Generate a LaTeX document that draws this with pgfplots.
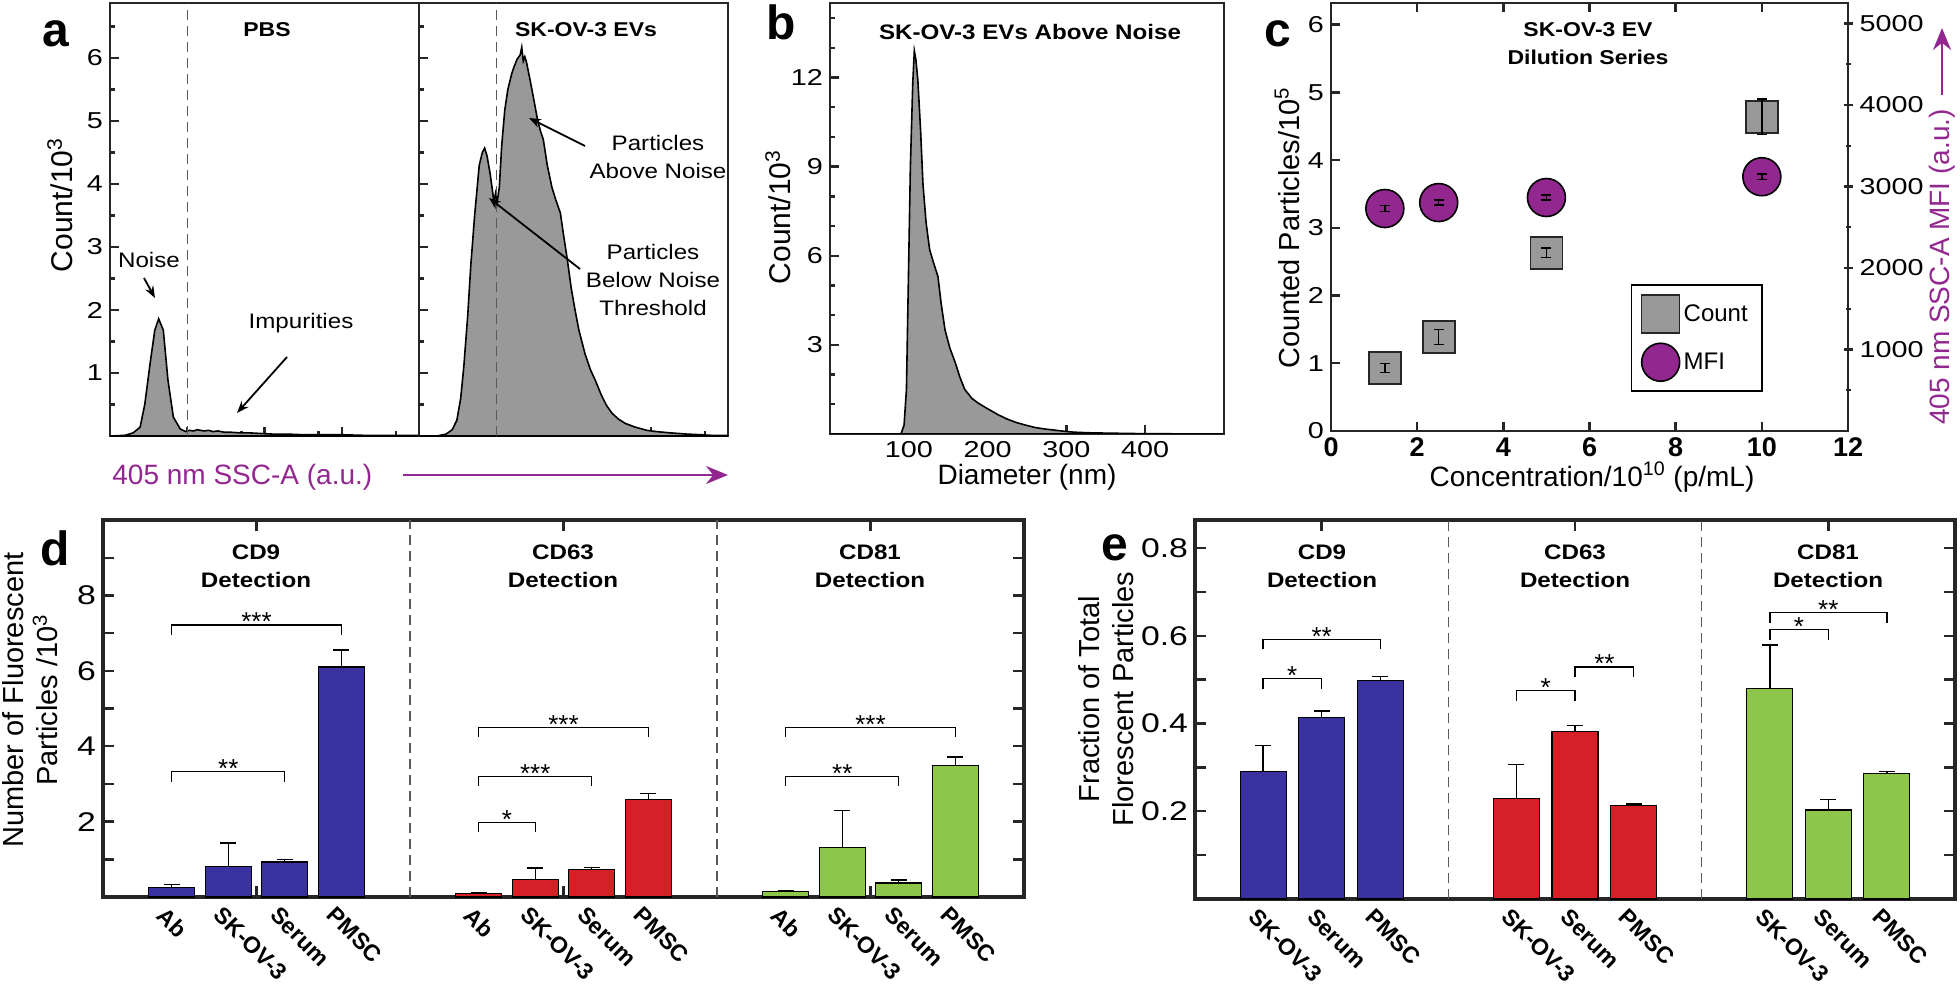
\documentclass[border=0pt]{standalone}
\usepackage{fontspec}
\setmainfont{Liberation Sans}
\newfontfamily\wide[FakeStretch=1.15]{Liberation Sans}
\newfontfamily\tickf[FakeStretch=1.25]{Liberation Sans}
\usepackage{pgfplots}
\pgfplotsset{compat=1.18}
\usetikzlibrary{arrows.meta}

\definecolor{axgray}{RGB}{38,38,38}
\definecolor{histgray}{RGB}{153,153,153}
\definecolor{mfi}{RGB}{146,39,143}
\definecolor{cdblue}{RGB}{58,50,160}
\definecolor{cdred}{RGB}{213,32,39}
\definecolor{cdgreen}{RGB}{141,198,75}

\pgfplotsset{
  panelbase/.style={scale only axis, anchor=south west,
    axis line style={draw=axgray, line width=1.4pt},
    tick style={draw=axgray, line width=1.2pt},
    major tick length=4.5pt, minor tick length=2.5pt, tick align=inside,
    /pgf/number format/assume math mode=true,
    /pgf/number format/1000 sep={},
    scaled ticks=false,
    tick label style={font=\tickf\fontsize{11.5pt}{13pt}\selectfont}},
  histfill/.style={fill=histgray, draw=black, line width=0.8pt},
  cdbar/.style={ybar, bar width=#1, bar shift=0pt, draw=black, line width=0.6pt,
    error bars/y dir=plus, error bars/y explicit,
    error bars/error bar style={black, line width=0.7pt},
    error bars/error mark options={rotate=90, mark size=4pt, black, line width=0.7pt}},
  erronly/.style={forget plot, color=black, only marks, mark=none, mark size=0pt,
    mark options={draw=none, fill=none},
    error bars/y dir=both, error bars/y explicit,
    error bars/error bar style={black, line width=0.7pt},
    error bars/error mark options={draw=black, rotate=90, mark size=2.5pt, line width=0.7pt}},
  sigbr/.style={black, line width=0.7pt, forget plot},
  grpdiv/.style={dash pattern=on 5pt off 3pt, gray!70!black, line width=0.6pt, forget plot},
  bigpanel/.style={panelbase, axis line style={line width=1.8pt},
    major tick length=5.5pt, minor tick length=5.5pt,
    xmin=0, xmax=15, ytick pos=both, yticklabel pos=left,
    xtick={2.5,7.5,12.5}, xticklabels={},
    extra x tick style={major tick length=0pt},
    yticklabel style={font=\tickf\fontsize{13.5pt}{15pt}\selectfont},
    xticklabel style={rotate=-45, anchor=north west, xshift=-2pt, yshift=-1pt,
      font=\bfseries\fontsize{11.5pt}{13pt}\selectfont}},
  cbox/.style={scale only axis, anchor=south west, at={(665.5pt,-215.5pt)},
    width=258.5pt, height=214pt, xmin=0, xmax=12},
}
\tikzset{stars/.style={font=\fontsize{13pt}{13pt}\selectfont, anchor=base, inner sep=0pt, yshift=-3pt}}

\begin{document}
\begin{tikzpicture}
\path[use as bounding box] (0,0) rectangle (980pt,-494.5pt);

% ---- a: PBS
\begin{axis}[panelbase, at={(55pt,-218pt)}, width=154.5pt, height=216.5pt,
  xmin=0, xmax=4, ymin=0, ymax=6.873,
  xtick={0,1,2,3,4}, minor xtick={0.7,1.7,2.7,3.7}, xticklabels={},
  ytick={1,2,3,4,5,6}, minor ytick={0.5,1.5,2.5,3.5,4.5,5.5,6.5},
  xtick pos=bottom, ytick pos=left]
\addplot[histfill] coordinates {
  (0,0)(0.19,0.01)(0.30,0.05)(0.39,0.14)(0.45,0.5)(0.52,1.16)(0.58,1.68)
  (0.63,1.86)(0.69,1.68)(0.75,0.89)(0.82,0.3)(0.91,0.11)(0.98,0.07)
  (1.03,0.09)(1.08,0.08)(1.13,0.10)(1.17,0.09)(1.22,0.08)(1.28,0.09)(1.33,0.07)
  (1.40,0.08)(1.48,0.06)(1.56,0.06)(1.68,0.05)(1.80,0.05)(1.95,0.04)(2.11,0.03)
  (2.30,0.03)(2.50,0.02)(2.72,0.02)(3.00,0.02)(3.30,0.01)(3.60,0.01)(4.00,0.01)
} \closedcycle;
\addplot[grpdiv] coordinates {(1,0)(1,6.873)};
\end{axis}

% ---- a: SK-OV-3 EVs
\begin{axis}[panelbase, at={(209.5pt,-218pt)}, width=154.5pt, height=216.5pt,
  xmin=0, xmax=4, ymin=0, ymax=6.873,
  xtick={0,1,2,3,4}, minor xtick={0.7,1.7,2.7,3.7}, xticklabels={},
  ytick={1,2,3,4,5,6}, minor ytick={0.5,1.5,2.5,3.5,4.5,5.5,6.5}, yticklabels={},
  xtick pos=bottom, ytick pos=left]
\addplot[histfill] coordinates {
  (0,0)(0.23,0.0)(0.35,0.03)(0.43,0.1)(0.49,0.25)(0.54,0.6)(0.58,1.1)(0.63,1.9)
  (0.67,2.7)(0.72,3.5)(0.78,4.3)(0.82,4.5)(0.85,4.57)(0.88,4.45)(0.92,4.17)
  (0.95,3.9)(0.97,3.72)(0.99,3.85)(1.01,3.7)(1.04,3.95)(1.07,4.6)(1.11,5.17)
  (1.15,5.5)(1.20,5.75)(1.23,5.86)(1.27,5.98)(1.31,6.05)(1.33,6.17)(1.35,5.95)
  (1.37,6.02)(1.39,5.94)(1.43,5.7)(1.48,5.38)(1.53,5.05)(1.57,4.85)(1.61,4.7)
  (1.66,4.3)(1.72,3.95)(1.77,3.75)(1.83,3.54)(1.87,3.2)(1.92,2.8)(1.97,2.35)
  (2.02,2.0)(2.07,1.68)(2.15,1.3)(2.22,1.05)(2.28,0.89)(2.36,0.65)(2.43,0.48)
  (2.50,0.36)(2.58,0.27)(2.67,0.2)(2.80,0.14)(2.95,0.09)(3.07,0.07)(3.25,0.05)
  (3.47,0.03)(3.65,0.02)(3.79,0.01)(4.00,0.01)
} \closedcycle;
\addplot[grpdiv] coordinates {(1,0)(1,6.873)};
\end{axis}

% ---- b
\begin{axis}[panelbase, at={(415pt,-217pt)}, width=197pt, height=215.5pt,
  xmin=0, xmax=500, ymin=0, ymax=14.51,
  xtick={100,200,300,400}, ytick={3,6,9,12},
  minor ytick={1,2,4,5,7,8,10,11,13,14},
  xtick pos=bottom, ytick pos=left]
\addplot[histfill] coordinates {
  (0,0)(90,0)(94,0.3)(97,1.5)(99,4.5)(102,9.0)(105,11.8)(107,12.9)(109,12.6)
  (111.5,11.9)(115,10.2)(118,8.4)(122,7.1)(126.5,6.2)(131,5.8)(137,5.3)(141,4.4)
  (146,3.5)(152,2.9)(159,2.4)(165,1.9)(171,1.5)(180,1.2)(188,1.04)(200,0.85)
  (214,0.64)(225,0.5)(236,0.39)(248,0.3)(260,0.22)(272,0.17)(285,0.13)(298,0.09)
  (310,0.06)(330,0.04)(350,0.03)(400,0.01)(500,0)
} \closedcycle;
\end{axis}

% ---- c (left axis: counts)
\begin{axis}[panelbase, cbox, ymin=0, ymax=6.32,
  xtick={0,2,4,6,8,10,12}, ytick={0,1,2,3,4,5,6}, ytick pos=left,
  xticklabel style={font=\bfseries\fontsize{13.5pt}{15pt}\selectfont}]
\addplot[only marks, mark=square*, mark size=8pt,
  mark options={fill=histgray, draw=axgray, line width=0.8pt}]
  coordinates {(1.25,0.93)(2.5,1.39)(5,2.63)(10,4.64)};
\end{axis}
% count error bars, drawn over the square markers
\begin{axis}[cbox, hide axis, ymin=0, ymax=6.32]
\addplot[erronly]
  coordinates {(1.25,0.93) +- (0,0.07) (2.5,1.39) +- (0,0.11) (5,2.63) +- (0,0.07) (10,4.64) +- (0,0.26)};
\end{axis}

% ---- c (right axis: MFI)
\begin{axis}[panelbase, cbox,
  axis x line=none, axis y line*=right, ymin=0, ymax=5252,
  ytick={1000,2000,3000,4000,5000}, minor ytick={500,1500,2500,3500,4500},
  tick align=center,
  legend style={at={(0.58,0.091)}, anchor=south west, draw=black, line width=0.8pt,
    font=\fontsize{12pt}{14pt}\selectfont, row sep=5pt, inner xsep=5pt, inner ysep=5pt,
    /tikz/every even column/.append style={column sep=4pt}},
  legend cell align=left,
  legend image code/.code={\path[draw=none, fill=none] (0pt,-9.5pt) rectangle (19pt,9.5pt);
    \draw[#1] plot coordinates {(9.5pt,0pt)};}]
\addlegendimage{only marks, mark=square*, mark size=9.5pt,
  mark options={fill=histgray, draw=axgray, line width=0.8pt}}
\addlegendentry{Count}
\addplot[only marks, mark=*, mark size=9.5pt,
  mark options={fill=mfi, draw=black, line width=0.8pt}]
  coordinates {(1.25,2730)(2.5,2803)(5,2865)(10,3120)};
\addlegendentry{MFI}
\end{axis}
% MFI error bars, drawn over the circles
\begin{axis}[cbox, hide axis, ymin=0, ymax=5252]
\addplot[erronly]
  coordinates {(1.25,2730) +- (0,35) (2.5,2803) +- (0,30) (5,2865) +- (0,30) (10,3120) +- (0,35)};
\end{axis}

% ---- d
\begin{axis}[bigpanel, at={(51.5pt,-448.5pt)}, width=460.5pt, height=188.5pt,
  ymin=0, ymax=10, ytick={2,4,6,8}, minor ytick={1,3,5,7,9},
  extra x ticks={1.12,2.04,2.96,3.88,6.12,7.04,7.96,8.88,11.12,12.04,12.96,13.88},
  extra x tick labels={Ab,SK-OV-3,Serum,PMSC,Ab,SK-OV-3,Serum,PMSC,Ab,SK-OV-3,Serum,PMSC}]
\addplot[grpdiv] coordinates {(5,0)(5,10)};
\addplot[grpdiv] coordinates {(10,0)(10,10)};
\addplot[cdbar=0.749, fill=cdblue] coordinates {
  (1.12,0.25) +- (0,0.08) (2.04,0.80) +- (0,0.63) (2.96,0.93) +- (0,0.07) (3.88,6.10) +- (0,0.45)};
\addplot[cdbar=0.749, fill=cdred] coordinates {
  (6.12,0.10) +- (0,0.02) (7.04,0.47) +- (0,0.30) (7.96,0.74) +- (0,0.04) (8.88,2.58) +- (0,0.16)};
\addplot[cdbar=0.749, fill=cdgreen] coordinates {
  (11.12,0.15) +- (0,0.03) (12.04,1.32) +- (0,0.97) (12.96,0.37) +- (0,0.08) (13.88,3.49) +- (0,0.22)};
\addplot[sigbr] coordinates {(1.12,6.95)(1.12,7.22)(3.88,7.22)(3.88,6.95)};
\addplot[sigbr] coordinates {(1.12,3.06)(1.12,3.33)(2.96,3.33)(2.96,3.06)};
\addplot[sigbr] coordinates {(6.12,4.24)(6.12,4.50)(8.88,4.50)(8.88,4.24)};
\addplot[sigbr] coordinates {(6.12,2.94)(6.12,3.20)(7.96,3.20)(7.96,2.94)};
\addplot[sigbr] coordinates {(6.12,1.72)(6.12,1.98)(7.04,1.98)(7.04,1.72)};
\addplot[sigbr] coordinates {(11.12,4.24)(11.12,4.50)(13.88,4.50)(13.88,4.24)};
\addplot[sigbr] coordinates {(11.12,2.94)(11.12,3.20)(12.96,3.20)(12.96,2.94)};
\node[stars] at (axis cs:2.5,7.22) {***};
\node[stars] at (axis cs:2.04,3.33) {**};
\node[stars] at (axis cs:7.5,4.50) {***};
\node[stars] at (axis cs:7.04,3.20) {***};
\node[stars] at (axis cs:6.58,1.98) {*};
\node[stars] at (axis cs:12.5,4.50) {***};
\node[stars] at (axis cs:12.04,3.20) {**};
\end{axis}

% ---- e
\begin{axis}[bigpanel, at={(597.5pt,-449.5pt)}, width=380pt, height=189.5pt,
  ymin=0, ymax=0.864, ytick={0.2,0.4,0.6,0.8}, minor ytick={0.1,0.3,0.5,0.7},
  extra x ticks={1.345,2.5,3.655,6.345,7.5,8.655,11.345,12.5,13.655},
  extra x tick labels={SK-OV-3,Serum,PMSC,SK-OV-3,Serum,PMSC,SK-OV-3,Serum,PMSC}]
\addplot[grpdiv] coordinates {(5,0)(5,0.864)};
\addplot[grpdiv] coordinates {(10,0)(10,0.864)};
\addplot[cdbar=0.908, fill=cdblue] coordinates {
  (1.345,0.290) +- (0,0.060) (2.5,0.413) +- (0,0.016) (3.655,0.499) +- (0,0.008)};
\addplot[cdbar=0.908, fill=cdred] coordinates {
  (6.345,0.230) +- (0,0.077) (7.5,0.381) +- (0,0.015) (8.655,0.213) +- (0,0.004)};
\addplot[cdbar=0.908, fill=cdgreen] coordinates {
  (11.345,0.479) +- (0,0.100) (12.5,0.203) +- (0,0.024) (13.655,0.286) +- (0,0.004)};
\addplot[sigbr] coordinates {(1.345,0.569)(1.345,0.592)(3.655,0.592)(3.655,0.569)};
\addplot[sigbr] coordinates {(1.345,0.479)(1.345,0.503)(2.5,0.503)(2.5,0.479)};
\addplot[sigbr] coordinates {(6.345,0.452)(6.345,0.475)(7.5,0.475)(7.5,0.452)};
\addplot[sigbr] coordinates {(7.5,0.505)(7.5,0.529)(8.655,0.529)(8.655,0.505)};
\addplot[sigbr] coordinates {(11.345,0.629)(11.345,0.653)(13.655,0.653)(13.655,0.629)};
\addplot[sigbr] coordinates {(11.345,0.590)(11.345,0.615)(12.5,0.615)(12.5,0.590)};
\node[stars] at (axis cs:2.5,0.592) {**};
\node[stars] at (axis cs:1.92,0.503) {*};
\node[stars] at (axis cs:6.92,0.475) {*};
\node[stars] at (axis cs:8.08,0.529) {**};
\node[stars] at (axis cs:12.5,0.653) {**};
\node[stars] at (axis cs:11.92,0.615) {*};
\end{axis}

% ---- labels and annotations (pixel grid of the reference, y downward)
\begin{scope}[x=0.5pt, y=-0.5pt]
\tikzset{plet/.style={font=\bfseries\fontsize{24pt}{24pt}\selectfont, anchor=base, inner sep=0pt},
  ttl/.style={font=\wide\bfseries\fontsize{10pt}{14pt}\selectfont, align=center, inner sep=0pt},
  gttl/.style={font=\wide\bfseries\fontsize{10.5pt}{14pt}\selectfont, align=center, inner sep=0pt},
  ann/.style={font=\wide\fontsize{10.5pt}{14.2pt}\selectfont, align=center, inner sep=0pt},
  alab/.style={font=\fontsize{15pt}{18pt}\selectfont, inner sep=0pt},
  pin/.style={black, line width=0.9pt, -{Stealth[length=6pt,width=4.5pt]}}}
\node[plet] at (56,47) {a};
\node[plet] at (781,40) {b};
\node[plet] at (1278,47) {c};
\node[plet] at (55,565) {d};
\node[plet] at (1115,560) {e};

\node[ttl] at (267,30) {PBS};
\node[ttl] at (586,30) {SK-OV-3 EVs};
\node[ttl, font=\wide\bfseries\fontsize{10.5pt}{14pt}\selectfont] at (1030,32) {SK-OV-3 EVs Above Noise};
\node[ttl] at (1588,44) {SK-OV-3 EV\\Dilution Series};

\node[ann] at (149,260) {Noise};
\draw[pin] (144,278) -- (155,298);
\node[ann] at (301,323) {Impurities};
\draw[pin] (287,357) -- (237,413);
\node[ann] at (658,157) {Particles\\Above Noise};
\draw[pin] (585,146) -- (529,118);
\node[ann] at (653,280) {Particles\\Below Noise\\Threshold};
\draw[pin] (580,269) -- (489,198);

\node[alab, rotate=90] at (60,205) {Count/10\textsuperscript{3}};
\node[alab, rotate=90] at (778,217) {Count/10\textsuperscript{3}};
\node[alab, text=mfi, font=\fontsize{14pt}{16pt}\selectfont, anchor=west] at (112,477) {405 nm SSC-A (a.u.)};
\draw[mfi, line width=1.2pt, -{Stealth[length=11pt,width=9pt]}] (403,475) -- (728,475);
\node[alab, font=\fontsize{14pt}{16pt}\selectfont] at (1027,477) {Diameter (nm)};

\node[alab, rotate=90, font=\fontsize{14.5pt}{16pt}\selectfont] at (1287,228) {Counted Particles/10\textsuperscript{5}};
\node[alab, font=\fontsize{14pt}{16pt}\selectfont] at (1592,477) {Concentration/10\textsuperscript{10} (p/mL)};
\node[alab, rotate=90, text=mfi, font=\fontsize{14pt}{16pt}\selectfont] at (1942,267) {405 nm SSC-A MFI (a.u.)};
\draw[mfi, line width=1.2pt, -{Stealth[length=11pt,width=9pt]}] (1942,95) -- (1942,28);

\node[gttl] at (256,566) {CD9\\Detection};
\node[gttl] at (563,566) {CD63\\Detection};
\node[gttl] at (870,566) {CD81\\Detection};
\node[gttl] at (1322,566) {CD9\\Detection};
\node[gttl] at (1575,566) {CD63\\Detection};
\node[gttl] at (1828,566) {CD81\\Detection};

\node[alab, rotate=90, align=center, font=\fontsize{14.5pt}{17pt}\selectfont] at (30,700)
  {Number of Fluorescent\\Particles /10\textsuperscript{3}};
\node[alab, rotate=90, align=center, font=\fontsize{14.5pt}{17pt}\selectfont] at (1106,699)
  {Fraction of Total\\Florescent Particles};
\end{scope}
\end{tikzpicture}
\end{document}
